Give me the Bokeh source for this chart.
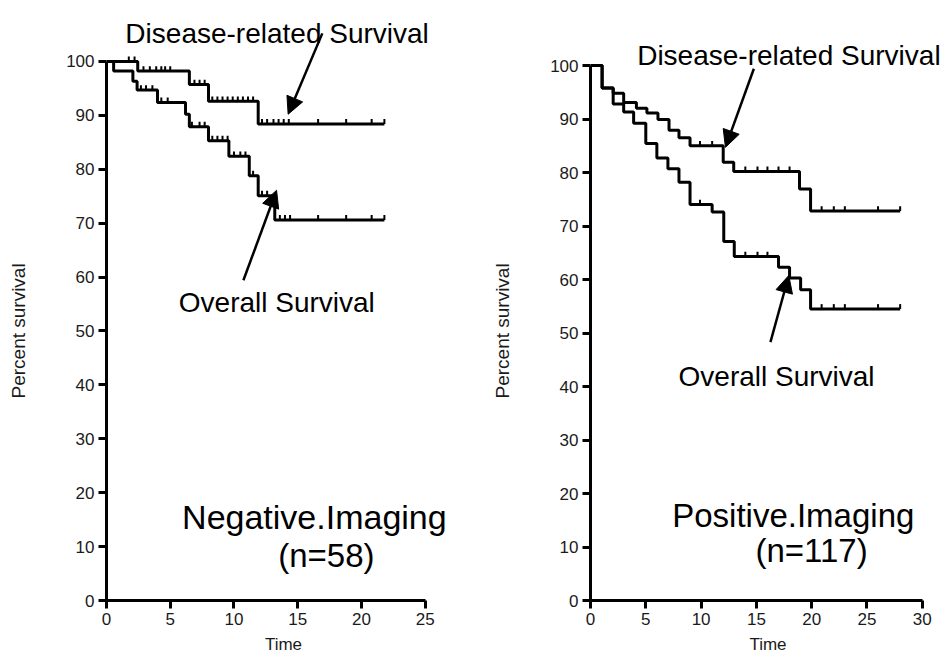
import numpy as np
from bokeh.plotting import figure
from bokeh.layouts import row
from bokeh.models import Label, Arrow, NormalHead, Title
from bokeh.embed import file_html
from bokeh.resources import INLINE

# ---------------- data ----------------
# Negative imaging (n=58)
neg_drs_t = [0, 2.45, 6.5, 8.0, 11.9, 21.8]
neg_drs_s = [100, 98.2, 95.7, 92.6, 88.4, 88.4]
neg_drs_cens = [1.75, 2.2, 2.9, 3.4, 3.9, 4.3, 4.6, 5.0, 6.9, 7.3, 7.7,
                8.3, 8.7, 9.1, 9.5, 9.9, 10.3, 10.7, 11.1, 11.5,
                12.2, 12.6, 13.1, 13.5, 13.9, 14.3, 16.6, 18.8, 20.8, 21.8]

neg_os_t = [0, 0.56, 2.07, 2.4, 4.0, 6.2, 6.5, 8.0, 9.6, 11.2, 11.9, 13.2, 21.8]
neg_os_s = [100, 98.2, 96.3, 94.7, 92.4, 90.2, 87.9, 85.3, 82.4, 78.8, 75.1, 70.6, 70.6]
neg_os_cens = [2.7, 3.1, 3.6, 4.3, 4.8, 6.7, 7.3, 7.7, 8.3, 8.7, 9.1, 9.5,
               10.0, 10.5, 10.9, 11.5, 12.2, 12.6, 13.6, 14.0, 14.4,
               16.6, 18.8, 20.8, 21.8]

# Positive imaging (n=117)
pos_drs_t = [0, 1.05, 2.05, 3.0, 4.15, 5.1, 6.1, 7.1, 8.0, 9.0, 12.0, 12.95, 18.9, 19.9, 28.0]
pos_drs_s = [100, 95.8, 94.8, 93.1, 92.0, 91.1, 89.9, 87.9, 86.5, 85.0, 81.9, 80.2, 76.9, 72.8, 72.8]
pos_drs_cens = [9.9, 11.0, 14.0, 15.1, 16.0, 17.0, 18.0, 20.9, 22.0, 23.0, 26.0, 28.0]

pos_os_t = [0, 1.05, 2.05, 3.0, 3.9, 5.0, 6.0, 7.0, 8.0, 9.0, 11.0, 12.05, 13.0,
            17.0, 18.0, 19.0, 19.9, 28.0]
pos_os_s = [100, 95.8, 92.8, 91.3, 89.2, 85.4, 82.7, 80.7, 78.2, 74.0, 72.6, 67.1, 64.3,
            62.3, 60.3, 58.1, 54.5, 54.5]
pos_os_cens = [9.9, 14.0, 15.1, 16.0, 20.9, 22.0, 23.0, 26.0, 28.0]

neg_xticks = [0, 5, 10, 15, 20, 25]
pos_xticks = [0, 5, 10, 15, 20, 25, 30]
y_ticks = [0, 10, 20, 30, 40, 50, 60, 70, 80, 90, 100]

FONT = "Liberation Sans"


def step_at(t_arr, s_arr, t):
    t_arr = np.asarray(t_arr)
    s_arr = np.asarray(s_arr)
    idx = np.searchsorted(t_arr, np.asarray(t), side="right") - 1
    return s_arr[np.clip(idx, 0, len(s_arr) - 1)]


def make_panel(width, border_left, x_end, y_end, x_bound, xticks):
    p = figure(width=width, height=659, output_backend="svg", toolbar_location=None,
               x_range=(0, x_end), y_range=(0, y_end),
               min_border_left=border_left, min_border_right=0,
               min_border_top=0, min_border_bottom=59)
    p.outline_line_color = None
    p.grid.visible = False
    p.background_fill_color = "white"
    p.border_fill_color = "white"
    p.xaxis.bounds = (0, x_bound)
    p.yaxis.bounds = (0, 100)
    p.xaxis.ticker = xticks
    p.yaxis.ticker = y_ticks
    for ax in (p.xaxis, p.yaxis):
        ax.axis_line_width = 3
        ax.axis_line_color = "black"
        ax.major_tick_line_width = 3
        ax.major_tick_line_color = "black"
        ax.major_tick_out = 8
        ax.major_tick_in = 0
        ax.minor_tick_line_color = None
        ax.major_label_text_font = FONT
        ax.major_label_text_font_size = "17px"
        ax.major_label_text_color = "#1a1a1a"
        ax.major_label_standoff = 4
    p.xaxis.axis_label = "Time"
    p.xaxis.axis_label_text_font = FONT
    p.xaxis.axis_label_text_font_size = "17px"
    p.xaxis.axis_label_text_font_style = "normal"
    p.xaxis.axis_label_text_color = "#1a1a1a"
    p.xaxis.axis_label_standoff = 7
    # spacer label so that the y title sits far to the left
    p.yaxis.axis_label = "\u00a0"
    p.yaxis.axis_label_text_font_size = "16px"
    p.yaxis.axis_label_standoff = 10
    p.add_layout(Title(text="Percent survival", align="left", offset=202,
                       text_font=FONT, text_font_size="19px", text_font_style="normal",
                       text_color="#1a1a1a"), "left")
    return p


def add_curve(p, t, s, cens):
    p.step(t, s, mode="after", line_width=3, line_color="black")
    cy = step_at(t, s, cens)
    p.segment(x0=cens, y0=cy, x1=cens, y1=cy + 0.9, line_width=2, line_color="black")


def add_text(p, x, y, txt, size):
    p.add_layout(Label(x=x, y=y, text=txt, text_font=FONT, text_font_size=size,
                       text_color="black", text_baseline="alphabetic", text_align="left"))


def add_arrow(p, x0, y0, x1, y1):
    p.add_layout(Arrow(end=NormalHead(size=17, fill_color="black", line_color="black"),
                       x_start=x0, y_start=y0, x_end=x1, y_end=y1,
                       line_width=2.5, line_color="black"))


# ---------------- left panel ----------------
p1 = make_panel(460, 104, 27.77, 111.3, 25, neg_xticks)
add_curve(p1, neg_drs_t, neg_drs_s, neg_drs_cens)
add_curve(p1, neg_os_t, neg_os_s, neg_os_cens)
add_text(p1, 1.48, 105.25, "Disease-related Survival", "28px")
add_text(p1, 5.67, 55.2, "Overall Survival", "28px")
add_text(p1, 5.93, 15.45, "Negative.Imaging", "34px")
add_text(p1, 13.47, 8.35, "(n=58)", "33px")
add_arrow(p1, 16.93, 105.2, 14.25, 90.2)
add_arrow(p1, 10.74, 59.4, 13.34, 76.1)

# ---------------- right panel ----------------
p2 = make_panel(485, 130, 32.1, 112.15, 30, pos_xticks)
add_curve(p2, pos_drs_t, pos_drs_s, pos_drs_cens)
add_curve(p2, pos_os_t, pos_os_s, pos_os_cens)
add_text(p2, 4.22, 101.9, "Disease-related Survival", "28px")
add_text(p2, 7.96, 41.87, "Overall Survival", "28px")
add_text(p2, 7.39, 15.9, "Positive.Imaging", "33px")
add_text(p2, 14.92, 9.35, "(n=117)", "33px")
add_arrow(p2, 14.77, 99.4, 12.2, 84.7)
add_arrow(p2, 16.27, 48.3, 17.93, 60.75)

layout = row(p1, p2)
open("out.html", "w").write(file_html(layout, INLINE))
